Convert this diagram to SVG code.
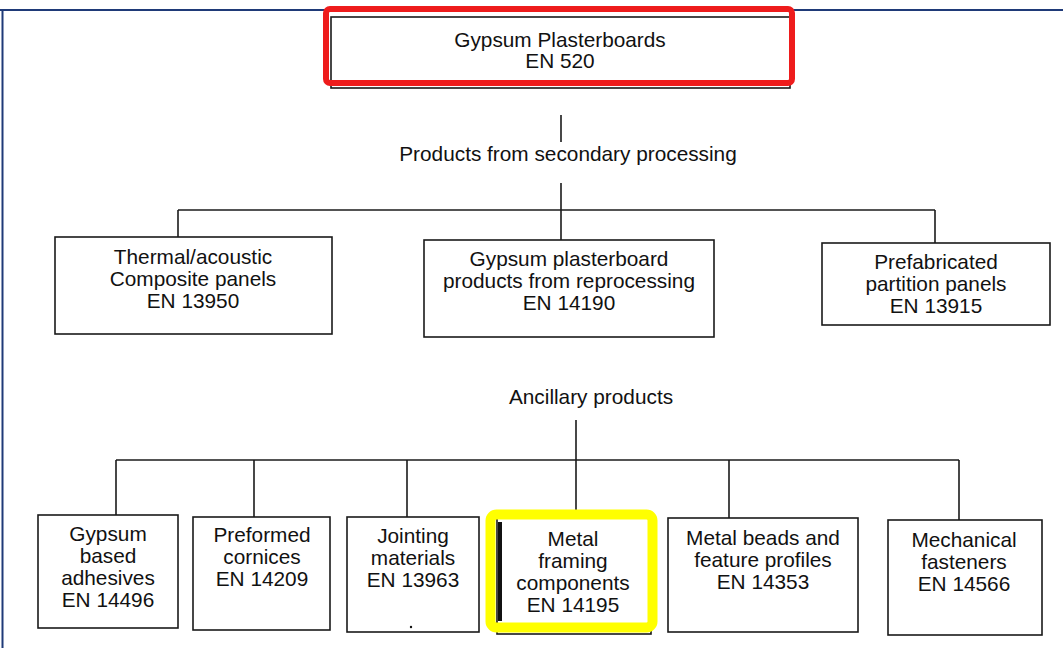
<svg xmlns="http://www.w3.org/2000/svg" width="1063" height="648" viewBox="0 0 1063 648">
<style>
.bg{fill:#ffffff}
.box{fill:#ffffff;stroke:#1a1a1a;stroke-width:1.6}
.ln{stroke:#1a1a1a;stroke-width:1.6;fill:none}
.t{font-family:"Liberation Sans",Arial,sans-serif;font-size:20.8px;fill:#111;text-anchor:middle}
.frame{stroke:#1f3a78;stroke-width:2;fill:none}
.red{fill:none;stroke:#ee1c1c;stroke-width:6}
.yel{fill:none;stroke:#ffff00;stroke-width:10}
</style>
<rect class="bg" x="0" y="0" width="1063" height="648"/>
<g id="frame">
<path class="frame" d="M0 10 H1063 M2.5 10 V648"/>
</g>
<g id="connectors">
<path class="ln" d="M561 115 V142"/>
<path class="ln" d="M561 183 V240"/>
<path class="ln" d="M178 210 H935"/>
<path class="ln" d="M178 210 V237"/>
<path class="ln" d="M935 210 V243"/>
<path class="ln" d="M576 420 V512"/>
<path class="ln" d="M116 460 H959"/>
<path class="ln" d="M116 460 V515"/>
<path class="ln" d="M254 460 V517"/>
<path class="ln" d="M407 460 V517"/>
<path class="ln" d="M729 460 V518"/>
<path class="ln" d="M959 460 V520"/>
</g>
<g id="label-secondary">
<text class="t" x="568" y="161">Products from secondary processing</text>
</g>
<g id="label-ancillary">
<text class="t" x="591" y="404">Ancillary products</text>
</g>
<g id="node-en520">
<rect class="box" x="331" y="17" width="459" height="71"/>
<rect class="red" x="326" y="9" width="466" height="74" rx="4"/>
<text class="t" x="560" y="47">Gypsum Plasterboards</text>
<text class="t" x="560" y="68">EN 520</text>
</g>
<g id="node-en13950">
<rect class="box" x="55" y="237" width="277" height="97"/>
<text class="t" x="193" y="264">Thermal/acoustic</text>
<text class="t" x="193" y="286">Composite panels</text>
<text class="t" x="193" y="308">EN 13950</text>
</g>
<g id="node-en14190">
<rect class="box" x="424" y="240" width="290" height="97"/>
<text class="t" x="569" y="266">Gypsum plasterboard</text>
<text class="t" x="569" y="288">products from reprocessing</text>
<text class="t" x="569" y="310">EN 14190</text>
</g>
<g id="node-en13915">
<rect class="box" x="822" y="243" width="228" height="82"/>
<text class="t" x="936" y="269">Prefabricated</text>
<text class="t" x="936" y="291">partition panels</text>
<text class="t" x="936" y="313">EN 13915</text>
</g>
<g id="node-en14496">
<rect class="box" x="38" y="515" width="140" height="113"/>
<text class="t" x="108" y="541">Gypsum</text>
<text class="t" x="108" y="563">based</text>
<text class="t" x="108" y="585">adhesives</text>
<text class="t" x="108" y="607">EN 14496</text>
</g>
<g id="node-en14209">
<rect class="box" x="193" y="517" width="137" height="113"/>
<text class="t" x="262" y="542">Preformed</text>
<text class="t" x="262" y="564">cornices</text>
<text class="t" x="262" y="586">EN 14209</text>
</g>
<g id="node-en13963">
<rect class="box" x="347" y="517" width="132" height="115"/>
<text class="t" x="413" y="543">Jointing</text>
<text class="t" x="413" y="565">materials</text>
<text class="t" x="413" y="587">EN 13963</text>
<circle cx="411" cy="627" r="1.2" fill="#111"/>
</g>
<g id="node-en14195">
<rect class="box" x="497" y="518" width="154" height="116"/>
<rect class="yel" x="490.5" y="514.5" width="162" height="113" rx="6"/>
<path d="M500 522 V621" stroke="#111" stroke-width="4"/>
<text class="t" x="573" y="546">Metal</text>
<text class="t" x="573" y="568">framing</text>
<text class="t" x="573" y="590">components</text>
<text class="t" x="573" y="612">EN 14195</text>
</g>
<g id="node-en14353">
<rect class="box" x="668" y="518" width="190" height="114"/>
<text class="t" x="763" y="545">Metal beads and</text>
<text class="t" x="763" y="567">feature profiles</text>
<text class="t" x="763" y="589">EN 14353</text>
</g>
<g id="node-en14566">
<rect class="box" x="888" y="520" width="154" height="115"/>
<text class="t" x="964" y="547">Mechanical</text>
<text class="t" x="964" y="569">fasteners</text>
<text class="t" x="964" y="591">EN 14566</text>
</g>
</svg>
